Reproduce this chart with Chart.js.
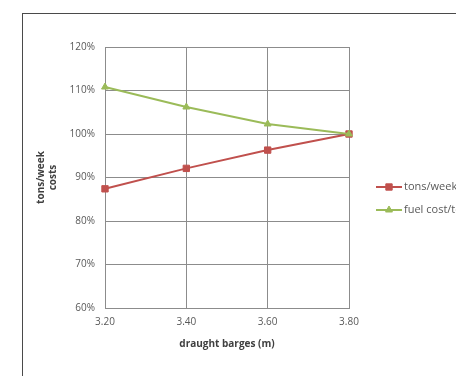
<!DOCTYPE html>
<html>
<head>
<meta charset="utf-8">
<script src="https://cdn.jsdelivr.net/npm/chart.js@4/dist/chart.umd.min.js"></script>
<style>
  html, body { margin: 0; padding: 0; background: #ffffff; overflow: hidden; }
  #wrap { position: relative; width: 456px; height: 376px; overflow: hidden; }
  #frame { position: absolute; left: 22px; top: 13px; width: 480px; height: 420px; border: 1px solid #4a4a4a; box-sizing: border-box; }
  #c { position: absolute; left: 0; top: 0; }
</style>
</head>
<body>
<div id="wrap">
  <div id="frame"></div>
  <canvas id="c" width="456" height="376"></canvas>
</div>
<script>
const categories = ["3.20", "3.40", "3.60", "3.80"];
const tonsPerWeek = [87.4, 92.1, 96.3, 100];
const fuelCostPerTon = [110.8, 106.2, 102.3, 100];
const seriesNames = ["tons/week", "fuel cost/ton"];
const yTitle = ["tons/week", "costs"];
const xTitle = "draught barges (m)";

const FONT = "'Open Sans', Lato, 'Liberation Sans', sans-serif";
const GRID = "#8c8c8c";

const legendPlugin = {
  id: 'fixedLegend',
  afterDraw(chart) {
    const ctx = chart.ctx;
    const rows = [187, 210];
    ctx.save();
    chart.data.datasets.forEach((ds, i) => {
      const y = rows[i];
      ctx.strokeStyle = ds.borderColor;
      ctx.lineWidth = 2;
      ctx.beginPath();
      ctx.moveTo(376, y);
      ctx.lineTo(402, y);
      ctx.stroke();
      ctx.fillStyle = ds.backgroundColor;
      ctx.strokeStyle = ds.borderColor;
      ctx.lineWidth = 1;
      Chart.helpers.drawPoint(ctx, {pointStyle: ds.pointStyle, radius: ds.pointRadius, borderWidth: 1}, 389, y);
      ctx.fillStyle = '#595959';
      ctx.font = "11px " + FONT;
      ctx.textBaseline = 'middle';
      ctx.textAlign = 'left';
      ctx.fillText(ds.label, 404, y);
    });
    ctx.restore();
  }
};

new Chart(document.getElementById('c'), {
  type: 'line',
  data: {
    labels: categories,
    datasets: [
      {
        label: seriesNames[0],
        data: tonsPerWeek,
        borderColor: '#C0504D',
        backgroundColor: '#C0504D',
        borderWidth: 2,
        pointStyle: 'rect',
        pointRadius: 4.5,
        pointBorderWidth: 1,
        tension: 0,
        order: 2
      },
      {
        label: seriesNames[1],
        data: fuelCostPerTon,
        borderColor: '#9BBB59',
        backgroundColor: '#9BBB59',
        borderWidth: 2,
        pointStyle: 'triangle',
        pointRadius: 4,
        pointBorderWidth: 1,
        tension: 0,
        order: 1
      }
    ]
  },
  options: {
    responsive: false,
    animation: false,
    devicePixelRatio: 1,
    layout: { padding: { left: 30, top: 47, right: 107, bottom: 0 } },
    plugins: {
      legend: { display: false },
      tooltip: { enabled: false }
    },
    scales: {
      x: {
        offset: false,
        grid: { color: GRID, lineWidth: 1, drawTicks: false },
        border: { color: GRID },
        ticks: { color: '#595959', font: { family: FONT, size: 10 }, padding: 8, maxRotation: 0 },
        title: { display: true, text: xTitle, color: '#404040', font: { family: FONT, size: 10, weight: 'bold' }, padding: { top: 0, bottom: 26 } },
        afterFit(scale) { scale.height = 68; }
      },
      y: {
        min: 60,
        max: 120,
        grid: { color: GRID, lineWidth: 1, drawTicks: false },
        border: { color: GRID },
        ticks: {
          stepSize: 10,
          color: '#595959',
          font: { family: FONT, size: 10 },
          padding: 10,
          callback: v => v + '%'
        },
        title: { display: true, text: yTitle, color: '#404040', font: { family: FONT, size: 10, weight: 'bold' }, padding: { top: 5, bottom: 0 } },
        afterFit(scale) { scale.width = 75; }
      }
    }
  },
  plugins: [legendPlugin]
});
</script>
</body>
</html>
